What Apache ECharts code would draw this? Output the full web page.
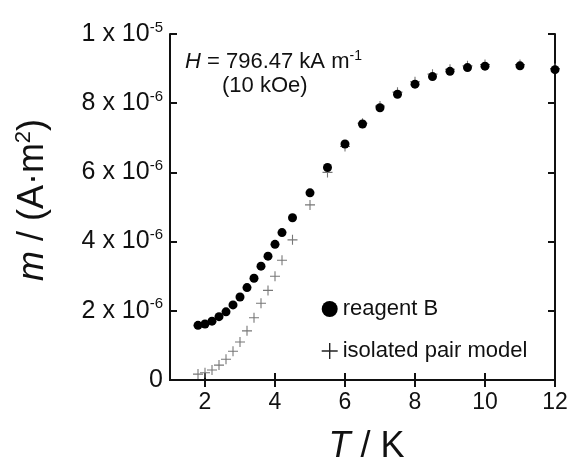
<!DOCTYPE html>
<html>
<head>
<meta charset="utf-8">
<script src="https://cdn.jsdelivr.net/npm/echarts@6/dist/echarts.min.js"></script>
<style>
html,body{margin:0;padding:0;background:#fff;}
#chart{width:570px;height:457px;}
</style>
</head>
<body>
<div id="chart"></div>
<script>
// Temperature T / K
var temperatures = [1.8, 2.0, 2.2, 2.4, 2.6, 2.8, 3.0, 3.2, 3.4, 3.6, 3.8, 4.0, 4.2, 4.5, 5.0, 5.5, 6.0, 6.5, 7.0, 7.5, 8.0, 8.5, 9.0, 9.5, 10, 11, 12];
// m in units of 1e-6 A·m^2
var reagentB = [1.58, 1.62, 1.70, 1.83, 1.97, 2.17, 2.40, 2.67, 2.94, 3.29, 3.58, 3.92, 4.26, 4.69, 5.41, 6.14, 6.82, 7.40, 7.87, 8.26, 8.55, 8.77, 8.92, 9.03, 9.07, 9.08, 8.97];
var isolatedPairModel = [0.17, 0.21, 0.29, 0.43, 0.60, 0.83, 1.10, 1.42, 1.80, 2.22, 2.59, 3.00, 3.46, 4.05, 5.06, 6.00, 6.75, 7.42, 7.92, 8.32, 8.62, 8.84, 8.98, 9.08, 9.12, 9.12, 9.00];
var xTicks = [2, 4, 6, 8, 10, 12];
var yTickLabels = {0: '0', 2: '2 x 10|-6', 4: '4 x 10|-6', 6: '6 x 10|-6', 8: '8 x 10|-6', 10: '1 x 10|-5'};

var FONT = 'Liberation Sans, Arial, sans-serif';
var chart = echarts.init(document.getElementById('chart'), null, {renderer: 'canvas'});

function pairs(xs, ys) { return xs.map(function (x, i) { return [x, ys[i]]; }); }

var axisLine = {show: true, lineStyle: {color: '#111', width: 2}};
var axisTick = {show: true, inside: true, length: 7, lineStyle: {color: '#111', width: 2}};
var plusPath = 'path://M5,0 L5,10 M0,5 L10,5';

var option = {
  backgroundColor: '#fff',
  animation: false,
  grid: {left: 170, right: 15, top: 34, bottom: 77, containLabel: false, outerBoundsMode: 'none'},
  legend: {
    orient: 'vertical',
    left: 316,
    top: 293,
    itemWidth: 16,
    itemHeight: 16,
    itemGap: 20,
    data: [
      {name: 'reagent B'},
      {name: 'isolated pair model', itemStyle: {borderColor: '#222', borderWidth: 1.4}}
    ],
    textStyle: {fontFamily: FONT, fontSize: 22, color: '#111'}
  },
  xAxis: [{
    type: 'value', min: 1, max: 12,
    axisLine: axisLine,
    axisTick: Object.assign({customValues: xTicks}, axisTick),
    splitLine: {show: false},
    axisLabel: {customValues: xTicks, margin: 11, fontFamily: FONT, fontSize: 23, color: '#111'},
    name: '{i|T} / K',
    nameLocation: 'middle',
    nameGap: 49,
    nameTextStyle: {fontFamily: FONT, fontSize: 36, color: '#111', padding: [0, 0, 0, 8],
      rich: {i: {fontFamily: FONT, fontSize: 36, fontStyle: 'italic', color: '#111'}}}
  }, {
    type: 'value', min: 1, max: 12, position: 'top',
    axisLine: axisLine,
    axisTick: Object.assign({customValues: xTicks}, axisTick),
    axisLabel: {show: false}, splitLine: {show: false}
  }],
  yAxis: [{
    type: 'value', min: 0, max: 10, interval: 2,
    axisLine: axisLine, axisTick: axisTick,
    splitLine: {show: false},
    axisLabel: {
      margin: 7, fontFamily: FONT, fontSize: 25, color: '#111',
      formatter: function (v) {
        var s = yTickLabels[v];
        if (s === undefined) return '';
        if (s.indexOf('|') < 0) return '{a|' + s + '}';
        var p = s.split('|');
        return '{a|' + p[0] + '}{s|' + p[1] + '}';
      },
      rich: {
        a: {fontFamily: FONT, fontSize: 25, color: '#111'},
        s: {fontFamily: FONT, fontSize: 15, color: '#111', verticalAlign: 'top', padding: [0, 0, 13, 0]}
      }
    },
    name: '{i|m} / (A·m{s|2})',
    nameLocation: 'middle',
    nameGap: 117,
    nameRotate: 90,
    nameTextStyle: {fontFamily: FONT, fontSize: 36, color: '#111', padding: [0, 0, 0, 14],
      rich: {
        i: {fontFamily: FONT, fontSize: 36, fontStyle: 'italic', color: '#111'},
        s: {fontFamily: FONT, fontSize: 22, color: '#111', verticalAlign: 'top', padding: [0, 0, 18, 0]}
      }}
  }, {
    type: 'value', min: 0, max: 10, interval: 2, position: 'right',
    axisLine: axisLine, axisTick: axisTick,
    axisLabel: {show: false}, splitLine: {show: false}
  }],
  graphic: [{
    type: 'text', left: 185, top: 49,
    style: {
      text: '{i|H} = 796.47 kA m{s|-1}',
      fontFamily: FONT, fontSize: 22, fill: '#111',
      rich: {
        i: {fontFamily: FONT, fontSize: 22, fontStyle: 'italic', color: '#111'},
        s: {fontFamily: FONT, fontSize: 14, color: '#111', verticalAlign: 'top', padding: [0, 0, 12, 0]}
      }
    }
  }, {
    type: 'text', left: 222, top: 75,
    style: {text: '(10 kOe)', fontFamily: FONT, fontSize: 22, fill: '#111'}
  }],
  series: [{
    name: 'isolated pair model',
    type: 'scatter',
    xAxisIndex: 0, yAxisIndex: 0,
    data: pairs(temperatures, isolatedPairModel),
    symbol: plusPath,
    symbolSize: 10,
    itemStyle: {color: 'rgba(0,0,0,0)', borderColor: '#777', borderWidth: 1.1, opacity: 1},
    z: 2
  }, {
    name: 'reagent B',
    type: 'scatter',
    xAxisIndex: 0, yAxisIndex: 0,
    data: pairs(temperatures, reagentB),
    symbol: 'circle',
    symbolSize: 9,
    itemStyle: {color: '#000', opacity: 1},
    z: 3
  }]
};
chart.setOption(option);
</script>
</body>
</html>
